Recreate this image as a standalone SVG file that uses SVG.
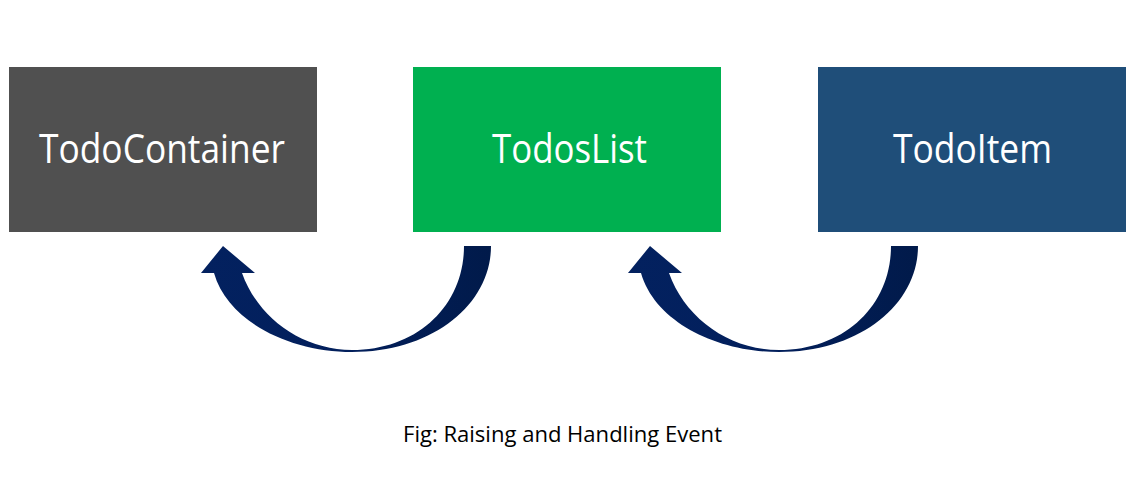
<svg xmlns="http://www.w3.org/2000/svg" width="1141" height="485" viewBox="0 0 1141 485">
<style>
.lbl{font-family:"Open Sans","Liberation Sans",sans-serif;font-size:40px;fill:#fff;text-anchor:middle}
.cap{font-family:"Open Sans","Liberation Sans",sans-serif;font-size:21.5px;fill:#000;text-anchor:middle}
.arr{fill:url(#ag)}
</style>
<defs>
<linearGradient id="ag" x1="0" y1="0" x2="1" y2="0">
<stop offset="0" stop-color="#03215f"/>
<stop offset="0.5" stop-color="#021f5c"/>
<stop offset="1" stop-color="#011a4a"/>
</linearGradient>
<path id="curve" d="M491,246 C491,305 432,352 352,352 C290,352 228,322 214,273 L201,273 L223,246 L255,273 L242,273 C258,318 302,350 352,350 C418,350 464,305 464,246 Z"/>
</defs>
<rect width="1141" height="485" fill="#fff"/>
<g id="todoContainer">
<rect x="9" y="67" width="308" height="165" fill="#505050"/>
<text class="lbl" x="162" y="163" textLength="246" lengthAdjust="spacingAndGlyphs">TodoContainer</text>
</g>
<g id="todosList">
<rect x="413" y="67" width="308" height="165" fill="#00b050"/>
<text class="lbl" x="569.5" y="163" textLength="155" lengthAdjust="spacingAndGlyphs">TodosList</text>
</g>
<g id="todoItem">
<rect x="818" y="67" width="308" height="165" fill="#1f4e79"/>
<text class="lbl" x="972.5" y="163" textLength="159" lengthAdjust="spacingAndGlyphs">TodoItem</text>
</g>
<g id="connectors">
<use href="#curve" class="arr"/>
<use href="#curve" class="arr" transform="translate(427,0)"/>
</g>
<text class="cap" x="562.5" y="442" textLength="319" lengthAdjust="spacingAndGlyphs">Fig: Raising and Handling Event</text>
</svg>
